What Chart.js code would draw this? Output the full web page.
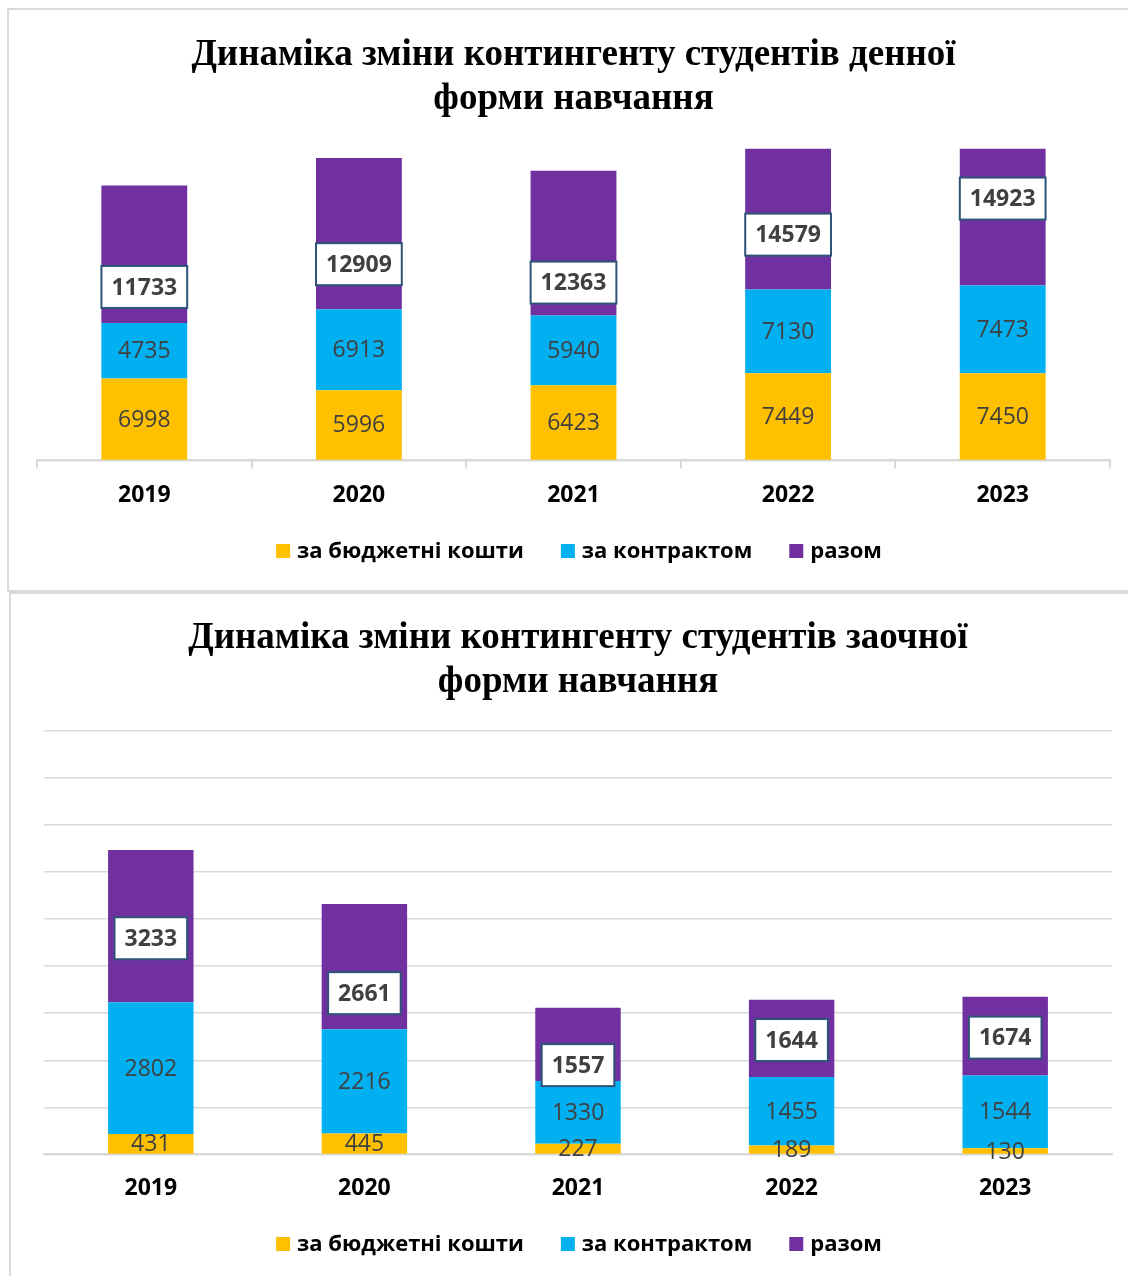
<!DOCTYPE html>
<html lang="uk">
<head>
<meta charset="UTF-8">
<title>Динаміка зміни контингенту студентів</title>
<script src="https://cdn.jsdelivr.net/npm/chart.js@4.4.1/dist/chart.umd.min.js"></script>
<style>
  html, body { margin: 0; padding: 0; background: #fff; }
  body { width: 1128px; height: 1276px; overflow: hidden; position: relative; }
  .frame { position: absolute; border: 2px solid #d9d9d9; box-sizing: border-box; }
  #frame1 { left: 7px; top: 8px; width: 1140px; height: 584px; }
  #frame2 { left: 9px; top: 592px; width: 1140px; height: 700px; }
  canvas { position: absolute; left: 0; }
  #day { top: 0; }
  #extramural { top: 593px; }
</style>
</head>
<body>
<div class="frame" id="frame1"></div>
<div class="frame" id="frame2"></div>
<canvas id="day" width="1128" height="590"></canvas>
<canvas id="extramural" width="1128" height="700"></canvas>
<script>
const years = ['2019', '2020', '2021', '2022', '2023'];
const seriesNames = ['за бюджетні кошти', 'за контрактом', 'разом'];

// денна форма
const dayBudget = [6998, 5996, 6423, 7449, 7450];
const dayContract = [4735, 6913, 5940, 7130, 7473];
const dayTotal = [11733, 12909, 12363, 14579, 14923];

// заочна форма
const extBudget = [431, 445, 227, 189, 130];
const extContract = [2802, 2216, 1330, 1455, 1544];
const extTotal = [3233, 2661, 1557, 1644, 1674];

const COLORS = ['#FFC000', '#00B0F0', '#7030A0'];
const GRID = '#d9d9d9';

Chart.defaults.font.family = '"Open Sans", sans-serif';
Chart.defaults.color = '#000';

// value labels: centred for the two parts, boxed and lifted for the total
const barLabels = {
  id: 'barLabels',
  afterDatasetsDraw(chart, args, opts) {
    const ctx = chart.ctx;
    ctx.save();
    ctx.textAlign = 'center';
    ctx.textBaseline = 'middle';
    chart.data.datasets.forEach((ds, di) => {
      const meta = chart.getDatasetMeta(di);
      meta.data.forEach((bar, i) => {
        const text = String(ds.data[i]);
        if (di < 2) {
          ctx.font = '23px "Open Sans", sans-serif';
          ctx.fillStyle = '#404040';
          ctx.fillText(text, bar.x, (bar.y + bar.base) / 2 + 1);
        } else {
          ctx.font = 'bold 23px "Open Sans", sans-serif';
          const w = ctx.measureText(text).width + 20;
          const h = 42;
          const cy = bar.base - opts.lift[i];
          ctx.fillStyle = '#fff';
          ctx.fillRect(bar.x - w / 2, cy - h / 2, w, h);
          ctx.lineWidth = 2;
          ctx.strokeStyle = '#2e5378';
          ctx.strokeRect(bar.x - w / 2, cy - h / 2, w, h);
          ctx.fillStyle = '#404040';
          ctx.fillText(text, bar.x, cy + 1);
        }
      });
    });
    ctx.restore();
  }
};

// one-row legend under the axis
const rowLegend = {
  id: 'rowLegend',
  afterDraw(chart, args, opts) {
    const ctx = chart.ctx;
    ctx.save();
    ctx.font = 'bold 22px "Open Sans", sans-serif';
    ctx.textBaseline = 'middle';
    ctx.textAlign = 'left';
    const box = 14, gap = 7, spacing = 37;
    const items = chart.data.datasets.map(ds => ({
      text: ds.label, color: ds.backgroundColor, w: ctx.measureText(ds.label).width
    }));
    const total = items.reduce((s, it) => s + box + gap + it.w, 0) + spacing * (items.length - 1);
    let x = opts.centerX - total / 2;
    items.forEach(it => {
      ctx.fillStyle = it.color;
      ctx.fillRect(x, opts.y - box / 2, box, box);
      ctx.fillStyle = '#000';
      ctx.fillText(it.text, x + box + gap, opts.y + 1);
      x += box + gap + it.w + spacing;
    });
    ctx.restore();
  }
};

function makeChart(id, title, budget, contract, total, cfg) {
  return new Chart(document.getElementById(id), {
    type: 'bar',
    data: {
      labels: years,
      datasets: [
        { label: seriesNames[0], data: budget, backgroundColor: COLORS[0], borderWidth: 0 },
        { label: seriesNames[1], data: contract, backgroundColor: COLORS[1], borderWidth: 0 },
        { label: seriesNames[2], data: total, backgroundColor: COLORS[2], borderWidth: 0 }
      ]
    },
    options: {
      responsive: false,
      animation: false,
      events: [],
      layout: { padding: cfg.padding },
      datasets: { bar: { categoryPercentage: 1, barPercentage: 0.4 } },
      scales: {
        x: {
          stacked: true,
          grid: { offset: true, drawOnChartArea: false, drawTicks: cfg.ticks, tickLength: 8, color: GRID, lineWidth: 2 },
          border: { display: true, color: GRID, width: 2 },
          ticks: { padding: cfg.tickPad, color: '#000', font: { size: 23, weight: 'bold' } }
        },
        y: {
          stacked: true,
          min: 0,
          max: cfg.max,
          afterBuildTicks: (axis) => { axis.ticks = axis.ticks.filter(t => t.value % cfg.step === 0); },
          ticks: { display: false, stepSize: cfg.step },
          grid: { drawTicks: false, color: GRID, lineWidth: 1.5 },
          border: { display: false }
        }
      },
      plugins: {
        title: {
          display: true,
          text: title,
          color: '#000',
          font: { family: '"Liberation Serif", "Times New Roman", serif', size: 37, weight: 'bold', lineHeight: 1.2 },
          padding: cfg.titlePad
        },
        legend: { display: false },
        tooltip: { enabled: false },
        barLabels: { lift: cfg.lift },
        rowLegend: { centerX: 579, y: cfg.legendY }
      }
    },
    plugins: [barLabels, rowLegend]
  });
}

makeChart('day', ['Динаміка зміни контингенту студентів денної', 'форми навчання'],
  dayBudget, dayContract, dayTotal, {
    max: 26600, step: 5000, ticks: true, tickPad: 13,
    padding: { top: 10, left: 37, right: 18, bottom: 68 },
    titlePad: { top: 23, bottom: 27 },
    lift: [36, 45, 33, 55, 87],
    legendY: 551
  });

makeChart('extramural', ['Динаміка зміни контингенту студентів заочної', 'форми навчання'],
  extBudget, extContract, extTotal, {
    max: 9000, step: 1000, ticks: false, tickPad: 20,
    padding: { top: 10, left: 44, right: 16, bottom: 71 },
    titlePad: { top: 13, bottom: 26 },
    lift: [64, 36, 16, 37, 38],
    legendY: 651
  });
</script>
</body>
</html>
